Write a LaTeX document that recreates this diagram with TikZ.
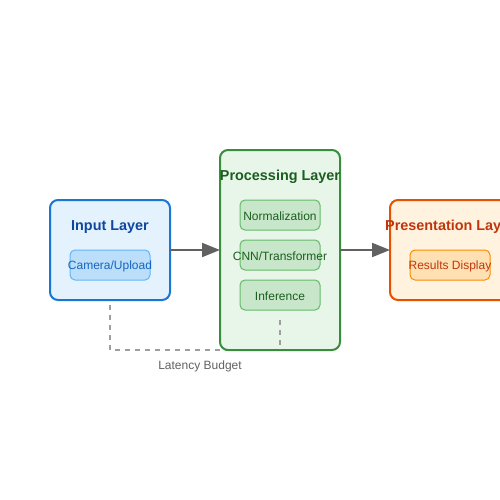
\documentclass[tikz,border=0pt]{standalone}
\usepackage{fontspec}
\setmainfont{Liberation Sans}
\usetikzlibrary{positioning,arrows.meta,backgrounds}
\definecolor{inblue}{HTML}{1976D2}
\definecolor{inbluefill}{HTML}{E3F2FD}
\definecolor{inbluesub}{HTML}{BBDEFB}
\definecolor{inbluesubdraw}{HTML}{64B5F6}
\definecolor{inbluetext}{HTML}{0D47A1}
\definecolor{inbluesubtext}{HTML}{1565C0}
\definecolor{prgreen}{HTML}{388E3C}
\definecolor{prgreenfill}{HTML}{E8F5E9}
\definecolor{prgreensub}{HTML}{C8E6C9}
\definecolor{prgreensubdraw}{HTML}{66BB6A}
\definecolor{prgreentext}{HTML}{1B5E20}
\definecolor{ptorange}{HTML}{E65100}
\definecolor{ptorangefill}{HTML}{FFF3E0}
\definecolor{ptorangesub}{HTML}{FFE0B2}
\definecolor{ptorangesubdraw}{HTML}{FB8C00}
\definecolor{ptorangetext}{HTML}{BF360C}
\definecolor{flowgray}{HTML}{616161}
\definecolor{budgetgray}{HTML}{9E9E9E}

\begin{document}
\begin{tikzpicture}[x=1pt, y=-1pt,
    layer/.style={draw, rounded corners=8pt, line width=2pt, outer sep=0pt, minimum width=120pt, minimum height=100pt},
    sub/.style={draw, rounded corners=5pt, line width=1pt, outer sep=0pt, minimum width=80pt, minimum height=30pt},
    title/.style={font=\bfseries\fontsize{14.4}{16}\selectfont, inner sep=0pt},
    subtext/.style={font=\fontsize{12}{14}\selectfont, inner sep=0pt, yshift=-1pt},
    flow/.style={draw=flowgray, line width=2pt, -{Triangle[length=18pt,width=14pt]}},
    budget/.style={draw=budgetgray, line width=1.5pt, dash pattern=on 5pt off 5pt},
    ]
    \useasboundingbox (0,0) rectangle (500,500);
    \clip (0,0) rectangle (500,500);

    \node [layer, draw=inblue, fill=inbluefill, label={[title, text=inbluetext, yshift=23pt]center:Input Layer}] (input) at (110,250) {};
    \node [layer, draw=prgreen, fill=prgreenfill, minimum height=200pt, label={[title, text=prgreentext, yshift=73pt]center:Processing Layer}] [right=50pt of input] (process) {};
    \node [layer, draw=ptorange, fill=ptorangefill, label={[title, text=ptorangetext, yshift=23pt]center:Presentation Layer}] [right=50pt of process] (present) {};

    \node [sub, draw=inbluesubdraw, fill=inbluesub, label={[subtext, text=inbluesubtext]center:Camera/Upload}] (camera) at ([yshift=-15pt]input.center) {};
    \node [sub, draw=prgreensubdraw, fill=prgreensub, label={[subtext, text=prgreentext]center:Normalization}] (norm) at ([yshift=35pt]process.center) {};
    \node [sub, draw=prgreensubdraw, fill=prgreensub, label={[subtext, text=prgreentext]center:CNN/Transformer}] [below=10pt of norm] (cnn) {};
    \node [sub, draw=prgreensubdraw, fill=prgreensub, label={[subtext, text=prgreentext]center:Inference}] [below=10pt of cnn] (infer) {};
    \node [sub, draw=ptorangesubdraw, fill=ptorangesub, label={[subtext, text=ptorangetext]center:Results Display}] (results) at ([yshift=-15pt]present.center) {};

    \node [subtext, text=flowgray] (latency) at (200,365) {Latency Budget};

    \draw [flow] (input) -- (process);
    \draw [flow] (process) -- (present);
    \begin{scope}[on background layer]
        \draw [budget] ([yshift=-5pt]input.south) |- (process.south);
    \end{scope}
    \draw [budget] ([yshift=30pt]process.south) -- ([yshift=5pt]process.south);
\end{tikzpicture}
\end{document}
